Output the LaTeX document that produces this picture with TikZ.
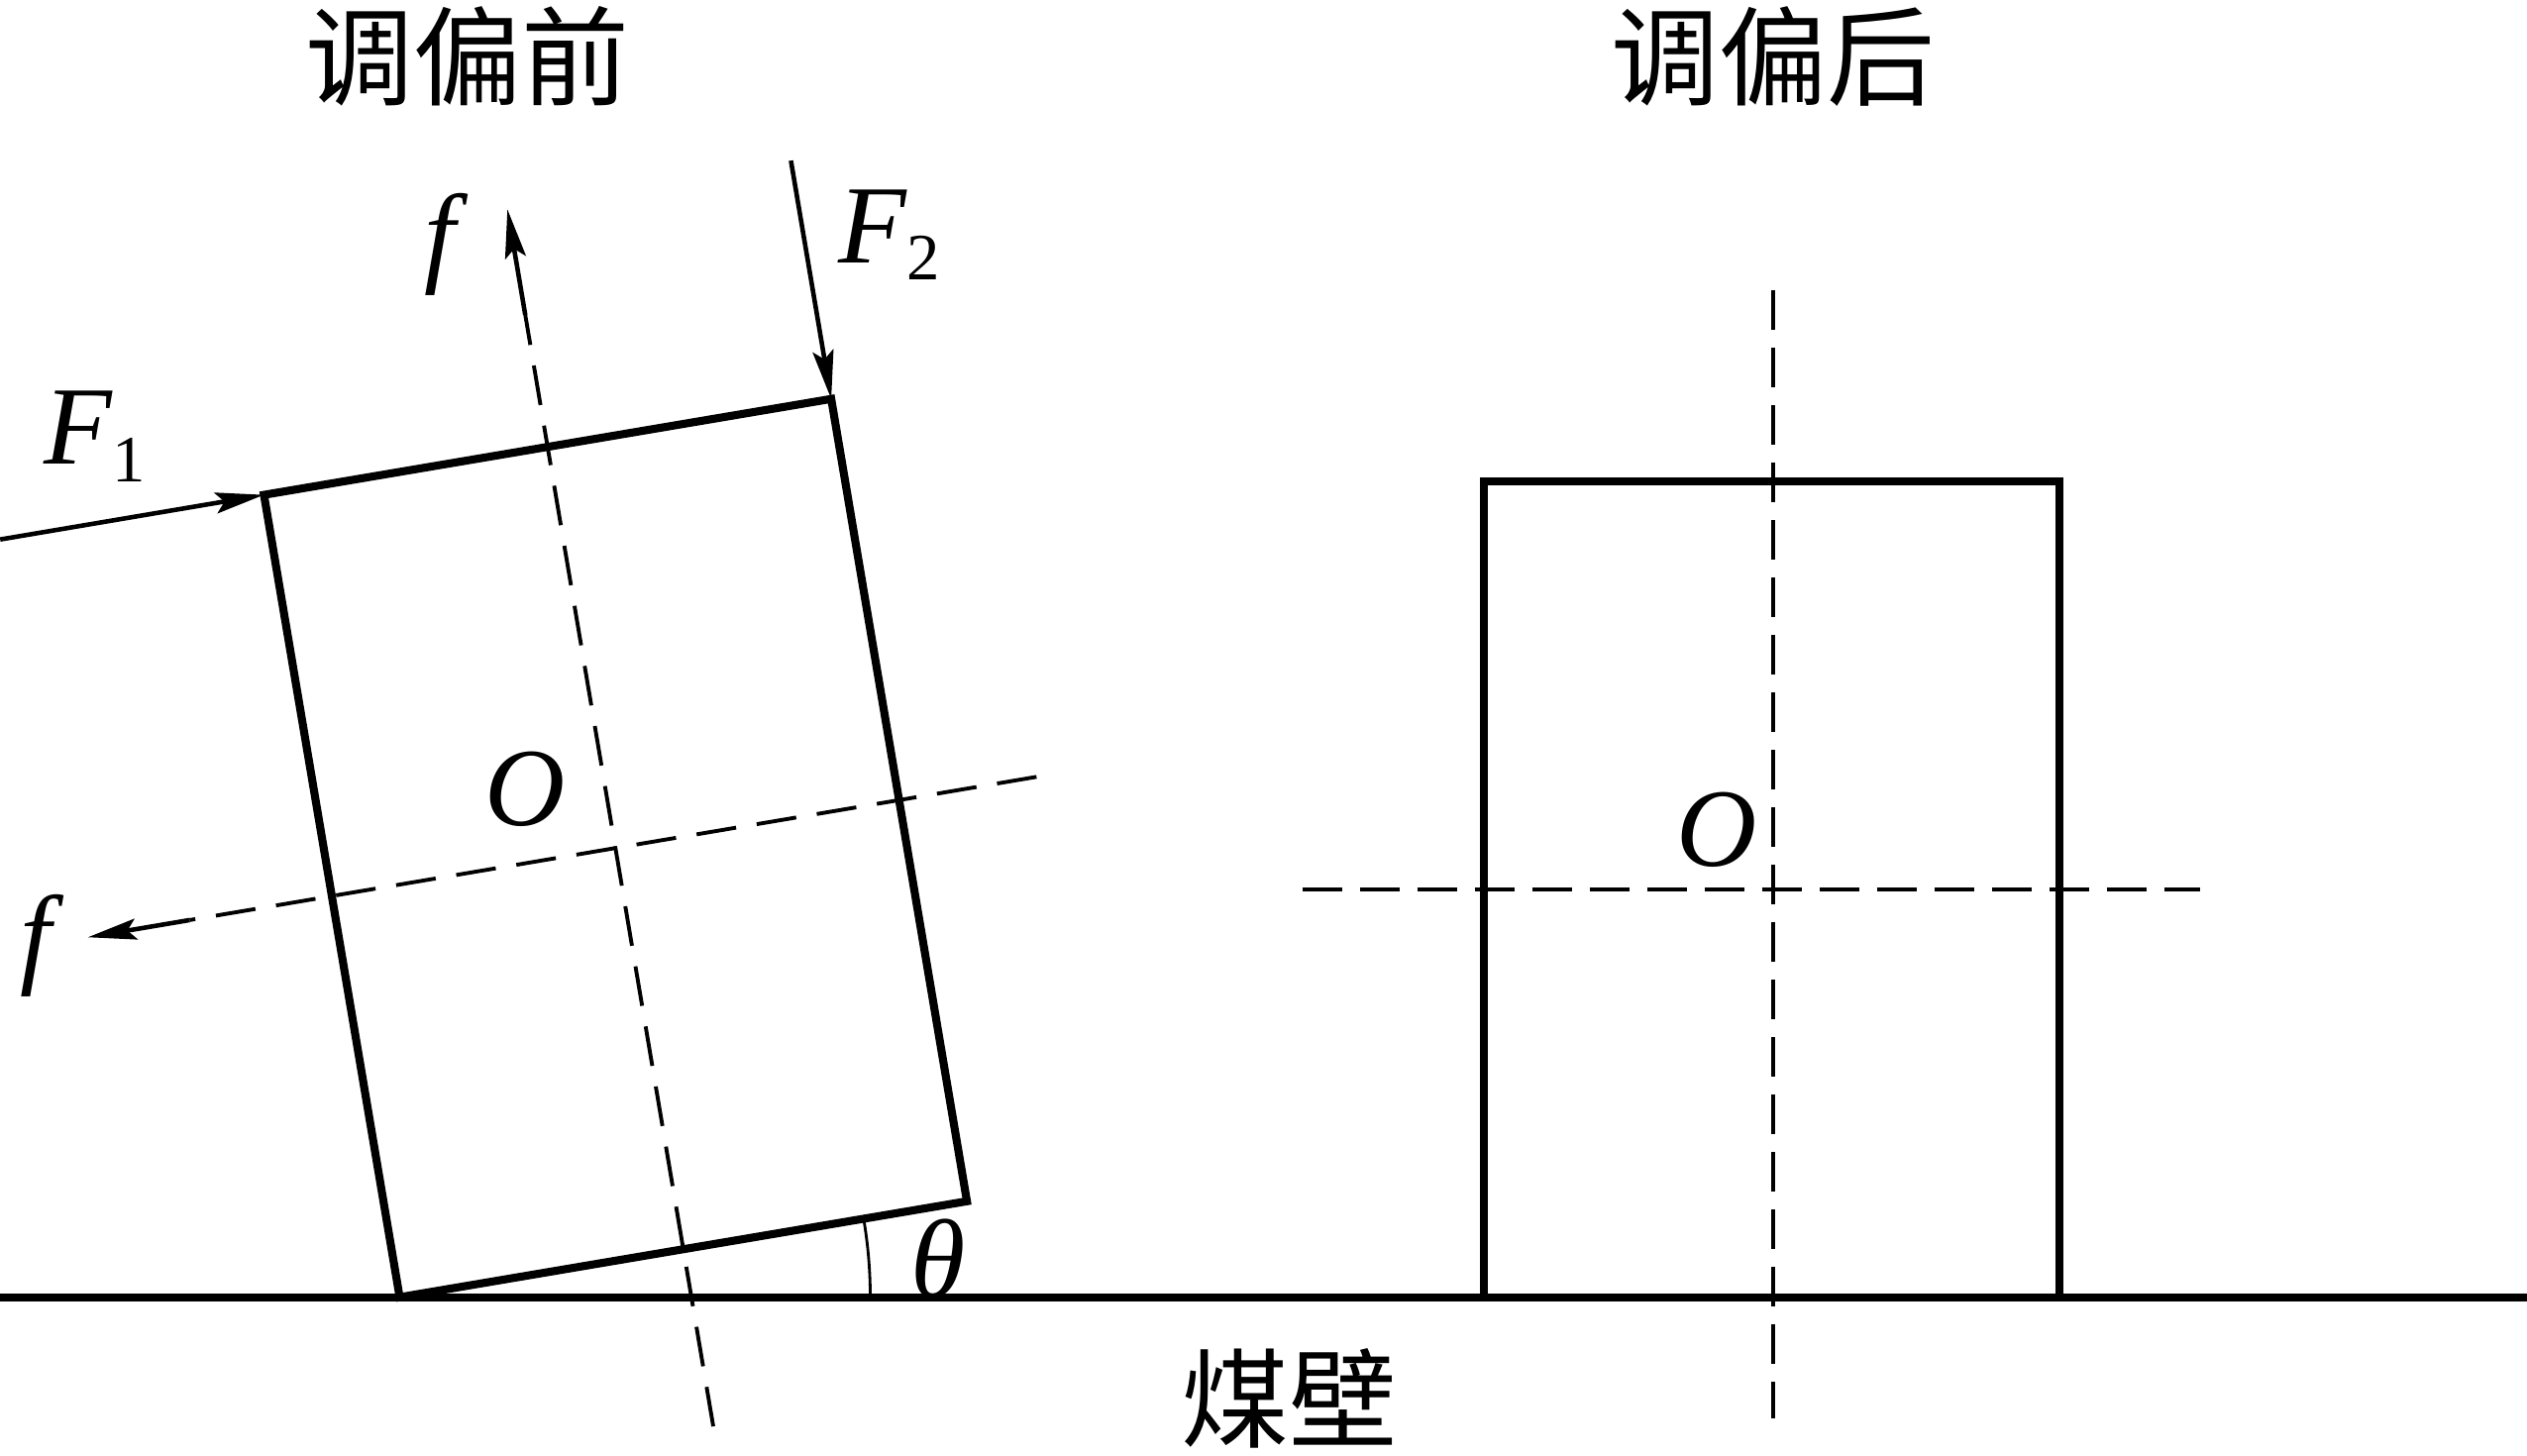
\documentclass[tikz,border=0pt]{standalone}
\usepackage{fontspec}
\setmainfont{Liberation Serif}
\newfontfamily\cjk{Noto Sans CJK SC}
\usetikzlibrary{arrows.meta}
\begin{document}
\begin{tikzpicture}[x=0.01627cm,y=0.01627cm,
  thickline/.style={line width=2.3pt, line join=miter},
  axisline/.style={line width=1.1pt, dash pattern=on 11.5pt off 6pt},
  axisright/.style={line width=1.1pt, dash pattern=on 11.5pt off 5pt},
  force/.style={line width=1.3pt, -{Stealth[length=14pt,width=6pt,inset=2.5pt]}},
  lab/.style={font=\fontsize{32}{32}\selectfont\itshape, inner sep=0pt},
  titlelab/.style={font=\cjk\fontsize{31}{31}\selectfont, inner sep=0pt}]
\useasboundingbox (0,0) rectangle (1568,903);

% ground (coal wall)
\coordinate (gL) at (0,98);
\coordinate (gR) at (1568,98);
\draw[thickline] (gL) -- (gR);

% tilted support (before correction)
\begin{scope}[shift={(248,98)}, rotate=9.6]
  \coordinate (BL) at (0,0);
  \coordinate (BR) at (357,0);
  \coordinate (TR) at (357,505);
  \coordinate (TL) at (0,505);
  \coordinate (vB) at (178.5,-111.5);
  \coordinate (vS) at (178.5,588);
  \coordinate (vT) at (178.5,654.5);
  \coordinate (hR) at (443.5,252.5);
  \coordinate (hS) at (-89.5,252.5);
  \coordinate (hT) at (-153.5,252.5);
  \coordinate (F1s) at (-166,505);
  \coordinate (F2s) at (357,655);
\end{scope}
\draw[thickline] (BL) -- (BR) -- (TR) -- (TL) -- cycle;
\draw[axisline] (vB) -- (vS);
\draw[force] (vS) -- (vT);
\draw[axisline] (hR) -- (hS);
\draw[force] (hS) -- (hT);
\draw[force] (F1s) -- (TL);
\draw[force] (F2s) -- (TR);

% angle theta
\coordinate (arcS) at (540,98);
\draw[line width=0.8pt] (arcS) arc[start angle=0, end angle=9.6, radius=4.751cm];

% upright support (after correction)
\coordinate (rBL) at (921,98);
\coordinate (rTR) at (1278,604);
\coordinate (rhL) at (808,351);
\coordinate (rhR) at (1365,351);
\coordinate (rvT) at (1100,723);
\coordinate (rvB) at (1100,23);
\draw[thickline] (rBL) rectangle (rTR);
\draw[axisright] (rhL) -- (rhR);
\draw[axisright] (rvT) -- (rvB);

% labels
\node[titlelab] (t1) at (290,868) {调偏前};
\node[titlelab] (t2) at (1100,868) {调偏后};
\node[titlelab] (t3) at (800,35) {煤壁};
\node[lab, anchor=base west] (F1) at (27,615) {F\raisebox{-5pt}{\fontsize{19}{19}\selectfont\upshape 1}};
\node[lab, anchor=base west] (F2) at (520,740) {F\raisebox{-5pt}{\fontsize{19}{19}\selectfont\upshape 2}};
\node[lab] (fT) at (273,751) {f};
\node[lab] (fL) at (22,316) {f};
\node[lab] (O1) at (326,413) {O};
\node[lab] (O2) at (1065,388) {O};
\node[lab] (th) at (582,122) {θ};
\end{tikzpicture}
\end{document}
